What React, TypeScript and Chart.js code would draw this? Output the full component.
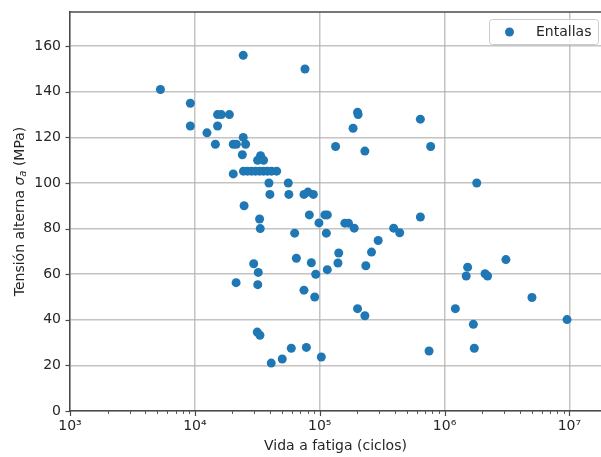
import React, { useEffect, useRef } from 'react';
import { Chart, registerables } from 'chart.js';

Chart.register(...registerables);

// ---- Data ----
const seriesLabel = 'Entallas';
const xTitle = 'Vida a fatiga (ciclos)';

const cycles: number[] = [
  5300, 9200, 9200, 12500, 14600, 15200, 15200, 16300, 18900, 20300,
  24400, 24400, 25500, 20300, 21500, 24000, 24800,
  24500, 26400, 28500, 30600, 33000, 35500, 38200, 41100, 45200,
  33600, 31800, 35500, 39200, 56000, 39900, 56600, 74800, 80500, 88900,
  76200, 134000, 201000, 203000, 185000, 230000, 640000, 774000, 1810000,
  33000, 33400, 63000, 82600, 98600, 110000, 115000, 113000,
  29600, 32200, 21400, 31900, 65000, 85700, 92900, 115000, 74800, 91200,
  31600, 33200, 40900, 50100, 59200, 78200, 103000,
  159000, 170000, 189000, 142000, 140000, 234000, 260000, 294000, 391000, 437000, 640000,
  201000, 230000, 751000,
  1530000, 1490000, 2110000, 2210000, 3100000, 5010000, 1220000, 1700000, 1730000, 9570000,
];

const stress: number[] = [
  141, 135, 125, 122, 117, 125, 130, 130, 130, 104,
  156, 120, 117, 117, 117, 112.4, 90,
  105.2, 105.2, 105.2, 105.2, 105.2, 105.2, 105.2, 105.2, 105.2,
  112, 110, 110, 100, 100, 95, 95, 95, 96, 95,
  150, 116, 131, 130, 124, 114, 128, 116, 100,
  84.2, 80, 78, 86, 82.5, 86, 86, 78,
  64.6, 60.8, 56.3, 55.4, 67, 65, 60, 62, 53, 50,
  34.6, 33.2, 21, 22.8, 27.5, 27.9, 23.7,
  82.4, 82.4, 80.2, 69.3, 64.9, 63.7, 69.7, 74.8, 80.2, 78.2, 85.1,
  44.9, 41.8, 26.3,
  63.1, 59.2, 60.2, 59.2, 66.4, 49.8, 44.9, 38, 27.5, 40.1,
];

const yTicks: number[] = [0, 20, 40, 60, 80, 100, 120, 140, 160];
const xDecades: number[] = [1e3, 1e4, 1e5, 1e6, 1e7];
const xMin = 1e3;
const xMax = 1.79e7;
const yMin = 0;
const yMax = 175;

const FONT = "'DejaVu Sans', sans-serif";
const BLUE = '#1f77b4';
const TEXT = '#262626';
const AXIS = '#4a4a4a';
const GRID = 'rgba(176,176,176,0.75)';
const SUP: Record<string, string> = { '3': '\u00b3', '4': '\u2074', '5': '\u2075', '6': '\u2076', '7': '\u2077' };

const decoPlugin = {
  id: 'deco',
  afterDraw(chart: any) {
    const { ctx, chartArea: a, scales } = chart;
    const x = scales.x;
    const y = scales.y;
    ctx.save();
    // top spine
    ctx.strokeStyle = AXIS;
    ctx.lineWidth = 1.5;
    ctx.beginPath();
    ctx.moveTo(a.left, a.top);
    ctx.lineTo(a.right, a.top);
    ctx.stroke();
    // y tick marks
    ctx.lineWidth = 1.2;
    yTicks.forEach((v) => {
      const p = Math.round(y.getPixelForValue(v)) + 0.5;
      ctx.beginPath();
      ctx.moveTo(a.left - 4.5, p);
      ctx.lineTo(a.left, p);
      ctx.stroke();
    });
    // x tick marks (major + minor)
    for (let e = 3; e <= 7; e++) {
      for (let m = 1; m <= 9; m++) {
        const v = m * Math.pow(10, e);
        if (v > x.max) break;
        const p = Math.round(x.getPixelForValue(v)) + 0.5;
        ctx.lineWidth = m === 1 ? 1.2 : 0.9;
        ctx.beginPath();
        ctx.moveTo(p, a.bottom);
        ctx.lineTo(p, a.bottom + (m === 1 ? 5 : 3));
        ctx.stroke();
      }
    }
    // y axis title with italic sigma and subscript a
    const big = `14px ${FONT}`;
    const bigIt = `italic 14px ${FONT}`;
    const small = `italic 10px ${FONT}`;
    const parts: [string, string, number][] = [
      ['Tensi\u00f3n alterna ', big, 0],
      ['\u03c3', bigIt, 0],
      ['a', small, 3],
      [' (MPa)', big, 0],
    ];
    let total = 0;
    parts.forEach(([t, f]) => {
      ctx.font = f;
      total += ctx.measureText(t).width;
    });
    ctx.translate(20, (a.top + a.bottom) / 2);
    ctx.rotate(-Math.PI / 2);
    ctx.fillStyle = TEXT;
    ctx.textBaseline = 'middle';
    ctx.textAlign = 'left';
    let cx = -total / 2;
    parts.forEach(([t, f, dy]) => {
      ctx.font = f;
      ctx.fillText(t, cx, dy);
      cx += ctx.measureText(t).width;
    });
    ctx.setTransform(1, 0, 0, 1, 0, 0);
    // legend
    const lx = 489, ly = 19, lw = 109, lh = 25;
    ctx.fillStyle = 'rgba(255,255,255,0.85)';
    ctx.strokeStyle = '#cccccc';
    ctx.lineWidth = 1;
    ctx.beginPath();
    if ((ctx as any).roundRect) (ctx as any).roundRect(lx + 0.5, ly + 0.5, lw, lh, 3);
    else ctx.rect(lx + 0.5, ly + 0.5, lw, lh);
    ctx.fill();
    ctx.stroke();
    ctx.fillStyle = BLUE;
    ctx.beginPath();
    ctx.arc(509.5, ly + lh / 2 + 0.5, 4.5, 0, Math.PI * 2);
    ctx.fill();
    ctx.fillStyle = TEXT;
    ctx.font = `14px ${FONT}`;
    ctx.textBaseline = 'middle';
    ctx.fillText(seriesLabel, 536, ly + lh / 2 + 0.5);
    ctx.restore();
  },
};

export default function App() {
  const ref = useRef<HTMLCanvasElement>(null);
  useEffect(() => {
    if (!ref.current) return;
    const points = cycles.map((c, i) => ({ x: c, y: stress[i] }));
    const chart = new Chart(ref.current, {
      type: 'scatter',
      data: {
        datasets: [
          {
            label: seriesLabel,
            data: points,
            backgroundColor: BLUE,
            borderColor: BLUE,
            borderWidth: 0,
            pointRadius: 4.5,
          },
        ],
      },
      options: {
        animation: false,
        responsive: true,
        maintainAspectRatio: false,
        layout: { autoPadding: false, padding: { top: 12, right: 0, left: 0, bottom: 0 } },
        plugins: { legend: { display: false }, tooltip: { enabled: false } },
        scales: {
          x: {
            type: 'logarithmic',
            min: xMin,
            max: xMax,
            z: 1,
            afterBuildTicks: (s: any) => {
              s.ticks = xDecades.map((v) => ({ value: v, major: true }));
            },
            afterFit: (s: any) => {
              s.height = 46;
              s.paddingLeft = 0;
              s.paddingRight = 0;
              s.paddingTop = 0;
              s.paddingBottom = 0;
            },
            grid: { color: GRID, lineWidth: 1.5, drawTicks: false },
            border: { color: AXIS, width: 1.5 },
            ticks: {
              autoSkip: false,
              maxRotation: 0,
              minRotation: 0,
              padding: 7,
              color: TEXT,
              font: { family: FONT, size: 14 },
              callback: (v: any) => {
                const e = String(Math.round(Math.log10(Number(v))));
                return '10' + (SUP[e] || e);
              },
            },
            title: {
              display: true,
              text: xTitle,
              color: TEXT,
              font: { family: FONT, size: 14 },
              padding: { top: 0, bottom: 2 },
            },
          },
          y: {
            type: 'linear',
            min: yMin,
            max: yMax,
            z: 1,
            afterBuildTicks: (s: any) => {
              s.ticks = yTicks.map((v) => ({ value: v }));
            },
            afterFit: (s: any) => {
              s.width = 70;
              s.paddingLeft = 0;
              s.paddingRight = 0;
              s.paddingTop = 0;
              s.paddingBottom = 0;
            },
            grid: { color: GRID, lineWidth: 1.5, drawTicks: false },
            border: { color: AXIS, width: 1.5 },
            ticks: {
              padding: 9,
              color: TEXT,
              font: { family: FONT, size: 14 },
              callback: (v: any) => String(v),
            },
          },
        },
      },
      plugins: [decoPlugin],
    });
    return () => chart.destroy();
  }, []);
  return (
    <div style={{ position: 'absolute', left: 0, top: 0, width: 601, height: 457, background: '#fff' }}>
      <canvas ref={ref} />
    </div>
  );
}
